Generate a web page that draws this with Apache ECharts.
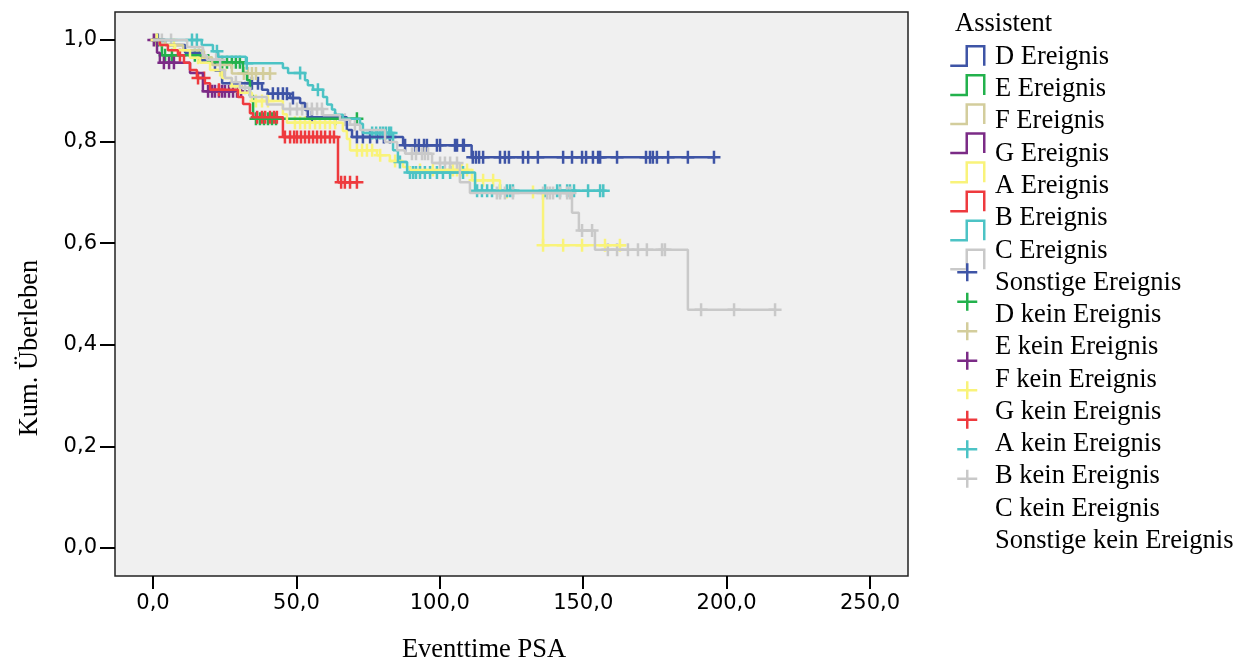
<!DOCTYPE html>
<html>
<head>
<meta charset="utf-8">
<script src="https://cdn.jsdelivr.net/npm/echarts@6/dist/echarts.min.js"></script>
<style>
html, body { margin: 0; padding: 0; background: #fff; }
#main { width: 1250px; height: 662px; }
</style>
</head>
<body>
<div id="main"></div>
<script>
// Kaplan-Meier Kurven je Assistent
var xTicks = [0, 50, 100, 150, 200, 250];
var yTicks = [0, 0.2, 0.4, 0.6, 0.8, 1.0];

// D (blau)
var dTime = [0, 4.2, 11.2, 16.4, 21.6, 24.1, 38.0, 40.1, 47.8, 51.3, 53.0, 54.0, 67.6, 69.4, 87.2, 111.1, 195.6];
var dSurv = [1.0, 0.990, 0.975, 0.960, 0.940, 0.915, 0.902, 0.894, 0.886, 0.876, 0.862, 0.848, 0.823, 0.809, 0.793, 0.769, 0.769];
var dCens = [1.7, 34.5, 36.6, 41.8, 43.6, 45.3, 46.7, 48.8, 55.4, 71.1, 73.2, 75.7, 78.1, 80.5, 82.6, 87.9, 91.4, 92.7, 94.5, 95.5, 99.0, 100.1, 105.3, 106.0, 108.1, 108.4, 111.5, 112.6, 113.7, 115.1, 121.0, 122.7, 124.1, 129.0, 130.8, 134.2, 143.0, 146.1, 149.6, 151.0, 153.4, 155.2, 155.9, 161.8, 171.9, 173.3, 174.3, 175.7, 179.6, 186.5, 195.6];

// E (gruen)
var eTime = [0, 1.4, 3.1, 19.2, 31.4, 32.8, 33.8, 34.9, 71.1];
var eSurv = [1.0, 0.990, 0.970, 0.956, 0.935, 0.921, 0.890, 0.845, 0.845];
var eCens = [4.2, 6.6, 14.6, 16.0, 17.4, 24.1, 25.8, 27.5, 28.9, 30.3, 35.9, 37.3, 38.7, 40.1, 41.5, 42.9, 63.5, 71.1];

// F (beige)
var fTime = [0, 4.2, 10.5, 17.4, 20.6, 27.5, 40.8];
var fSurv = [1.0, 0.990, 0.980, 0.966, 0.951, 0.934, 0.934];
var fCens = [1.0, 17.8, 31.7, 33.1, 34.5, 35.9, 38.4, 40.8];

// G (lila)
var gTime = [0, 1.4, 2.4, 12.9, 17.4, 31.4];
var gSurv = [1.0, 0.975, 0.955, 0.935, 0.899, 0.899];
var gCens = [0.3, 3.8, 5.6, 7.3, 19.2, 20.6, 21.6, 23.0, 24.1, 25.1, 26.5, 27.9, 29.3, 30.7];

// A (gelb)
var aTime = [0, 2.4, 7.7, 12.9, 16.4, 19.9, 24.1, 27.5, 30.3, 34.5, 45.3, 46.7, 66.2, 67.6, 68.7, 78.1, 82.6, 87.2, 89.6, 111.2, 121.0, 136.0, 164.9];
var aSurv = [1.0, 0.990, 0.980, 0.965, 0.955, 0.941, 0.925, 0.909, 0.896, 0.880, 0.854, 0.837, 0.821, 0.805, 0.783, 0.773, 0.762, 0.750, 0.744, 0.724, 0.701, 0.596, 0.596];
var aCens = [1.4, 7.3, 15.7, 23.4, 28.9, 35.9, 38.0, 40.1, 49.5, 51.3, 53.0, 54.7, 56.5, 58.2, 60.0, 61.7, 63.5, 71.1, 72.9, 74.6, 76.4, 79.2, 84.4, 93.1, 97.6, 103.6, 104.6, 106.0, 107.7, 109.5, 112.3, 115.1, 118.6, 123.4, 132.5, 136.0, 143.0, 149.6, 157.6, 162.8];

// B (rot)
var bTime = [0, 2.4, 5.2, 8.7, 10.8, 12.9, 15.3, 18.1, 19.9, 29.6, 31.4, 33.8, 34.9, 45.3, 64.5, 71.1];
var bSurv = [1.0, 0.990, 0.980, 0.970, 0.955, 0.941, 0.925, 0.915, 0.902, 0.888, 0.874, 0.856, 0.848, 0.809, 0.720, 0.720];
var bCens = [9.4, 15.7, 17.8, 23.0, 36.3, 38.0, 39.1, 40.8, 42.2, 43.2, 46.0, 47.8, 49.2, 50.2, 51.6, 53.0, 54.4, 55.8, 57.2, 58.6, 60.0, 61.7, 63.1, 65.6, 66.9, 68.7, 71.1];

// C (tuerkis)
var cTime = [0, 17.0, 20.9, 22.7, 32.4, 45.3, 47.1, 53.0, 54.0, 55.8, 59.3, 60.7, 62.4, 63.5, 66.2, 72.2, 73.2, 83.7, 85.4, 88.6, 112.3, 157.0];
var cSurv = [1.0, 0.990, 0.978, 0.967, 0.954, 0.945, 0.935, 0.921, 0.911, 0.902, 0.888, 0.873, 0.863, 0.853, 0.845, 0.835, 0.817, 0.783, 0.760, 0.739, 0.703, 0.703];
var cCens = [13.6, 15.3, 22.3, 32.7, 51.3, 57.5, 76.4, 77.8, 79.2, 80.2, 81.2, 82.3, 83.0, 86.1, 89.6, 90.7, 91.7, 93.1, 94.8, 96.6, 99.0, 101.1, 103.6, 108.1, 113.0, 114.7, 116.5, 118.2, 121.0, 123.4, 124.5, 125.5, 136.7, 140.9, 141.9, 144.4, 145.4, 146.8, 151.7, 155.9, 157.0];

// Sonstige (grau)
var sTime = [0, 11.9, 17.4, 18.8, 23.4, 25.1, 27.5, 30.3, 33.8, 39.7, 45.3, 59.3, 65.2, 68.7, 72.2, 80.9, 85.1, 87.9, 97.3, 107.0, 110.5, 146.1, 148.5, 154.1, 186.5, 216.9];
var sSurv = [1.0, 0.986, 0.970, 0.961, 0.941, 0.925, 0.917, 0.906, 0.888, 0.873, 0.864, 0.852, 0.843, 0.833, 0.823, 0.799, 0.783, 0.776, 0.758, 0.720, 0.699, 0.660, 0.625, 0.587, 0.469, 0.469];
var sCens = [3.1, 6.3, 22.0, 23.0, 28.9, 32.1, 47.8, 50.2, 52.0, 53.7, 55.4, 57.2, 58.9, 66.9, 70.4, 90.3, 91.7, 93.8, 94.8, 95.9, 100.1, 101.8, 103.6, 106.0, 119.9, 121.0, 122.7, 125.5, 136.0, 137.4, 138.4, 139.5, 141.9, 144.4, 145.4, 149.6, 153.1, 158.6, 161.8, 165.6, 169.1, 172.2, 177.5, 178.5, 191.1, 202.6, 216.9];

var groups = [
    {key: 'D', color: '#3e54a6', time: dTime, surv: dSurv, cens: dCens},
    {key: 'E', color: '#22b14c', time: eTime, surv: eSurv, cens: eCens},
    {key: 'F', color: '#d3cd9c', time: fTime, surv: fSurv, cens: fCens},
    {key: 'G', color: '#7b2b86', time: gTime, surv: gSurv, cens: gCens},
    {key: 'A', color: '#f9f37a', time: aTime, surv: aSurv, cens: aCens},
    {key: 'B', color: '#ee3a3e', time: bTime, surv: bSurv, cens: bCens},
    {key: 'C', color: '#4cc3c5', time: cTime, surv: cSurv, cens: cCens},
    {key: 'Sonstige', color: '#c9c9c9', time: sTime, surv: sSurv, cens: sCens}
];

var stepIcon = 'path://M0,20L16,20L16,1L33,1L33,20';
var plusIcon = 'path://M0,9L20,9M10,0L10,18';
var censSymbol = 'path://M0,6L12,6M6,0L6,12';
var serif = '"Liberation Serif", "Times New Roman", serif';
var sans = '"DejaVu Sans", sans-serif';

// Ueberlebensrate der Stufe zum Zeitpunkt t
function survAt(g, t) {
    var s = g.surv[0];
    for (var i = 0; i < g.time.length; i++) {
        if (g.time[i] <= t) s = g.surv[i];
    }
    return s;
}

function fmt(v) {
    return v.toFixed(1).replace('.', ',');
}

var series = [];
groups.forEach(function (g) {
    series.push({
        name: g.key + ' Ereignis',
        type: 'line',
        step: 'end',
        symbol: 'none',
        silent: true,
        data: g.time.map(function (t, i) { return [t, g.surv[i]]; }),
        itemStyle: {color: g.color},
        lineStyle: {color: g.color, width: 2.5}
    });
    series.push({
        name: g.key + ' kein Ereignis',
        type: 'scatter',
        symbol: censSymbol,
        symbolSize: 13,
        silent: true,
        data: g.cens.map(function (t) { return [t, survAt(g, t)]; }),
        itemStyle: {color: 'rgba(0,0,0,0)', borderColor: g.color, borderWidth: 2.5, opacity: 1}
    });
});

var textNames = groups.map(function (g) { return g.key + ' Ereignis'; })
    .concat(groups.map(function (g) { return g.key + ' kein Ereignis'; }));

var myChart = echarts.init(document.getElementById('main'));

option = {
    animation: false,
    backgroundColor: '#ffffff',
    title: {
        text: 'Assistent',
        left: 955,
        top: 11,
        padding: 0,
        textStyle: {fontFamily: serif, fontSize: 26.5, fontWeight: 'normal', color: '#000'}
    },
    grid: {
        left: 115,
        right: 342,
        top: 12,
        bottom: 86,
        show: true,
        backgroundColor: '#f0f0f0',
        borderColor: '#222',
        borderWidth: 1.5
    },
    xAxis: {
        type: 'value',
        min: -13.25,
        max: 263.25,
        axisLine: {show: false, onZero: false},
        splitLine: {show: false},
        axisTick: {show: true, customValues: xTicks, length: 13, lineStyle: {color: '#000', width: 2}},
        axisLabel: {customValues: xTicks, formatter: fmt, margin: 17, fontFamily: sans, fontSize: 21, color: '#000'}
    },
    yAxis: {
        type: 'value',
        min: -0.0551,
        max: 1.0551,
        axisLine: {show: false, onZero: false},
        splitLine: {show: false},
        axisTick: {show: true, customValues: yTicks, length: 15, lineStyle: {color: '#000', width: 2}},
        axisLabel: {customValues: yTicks, formatter: fmt, margin: 18, fontFamily: sans, fontSize: 21, color: '#000'}
    },
    legend: [
        {
            orient: 'vertical',
            left: 949,
            top: 45,
            padding: 0,
            itemWidth: 34,
            itemHeight: 20,
            itemGap: 7,
            selectedMode: false,
            formatter: function () { return ''; },
            data: groups.map(function (g) {
                return {name: g.key + ' Ereignis', icon: stepIcon,
                    itemStyle: {color: 'rgba(0,0,0,0)', borderColor: g.color, borderWidth: 2.5}};
            })
        },
        {
            orient: 'vertical',
            left: 956,
            top: 262,
            padding: 0,
            itemWidth: 20,
            itemHeight: 18,
            itemGap: 9,
            selectedMode: false,
            formatter: function () { return ''; },
            data: groups.map(function (g) {
                return {name: g.key + ' kein Ereignis', icon: plusIcon,
                    itemStyle: {color: 'rgba(0,0,0,0)', borderColor: g.color, borderWidth: 2.5}};
            })
        },
        {
            orient: 'vertical',
            left: 990,
            top: 41,
            padding: 0,
            itemWidth: 0,
            itemHeight: 0,
            itemGap: 0.27,
            selectedMode: false,
            textStyle: {fontFamily: serif, fontSize: 26.5, lineHeight: 32, color: '#000'},
            data: textNames.map(function (n) {
                return {name: n, icon: 'rect', itemStyle: {color: 'rgba(0,0,0,0)', borderWidth: 0}};
            })
        }
    ],
    graphic: [
        {
            type: 'text',
            x: 484,
            y: 650,
            style: {text: 'Eventtime PSA', fontFamily: serif, fontSize: 26.5, fill: '#000', align: 'center', verticalAlign: 'middle'}
        },
        {
            type: 'text',
            x: 30,
            y: 348,
            rotation: Math.PI / 2,
            style: {text: 'Kum. Überleben', fontFamily: serif, fontSize: 26.5, fill: '#000', align: 'center', verticalAlign: 'middle'}
        }
    ],
    series: series
};
myChart.setOption(option);
</script>
</body>
</html>
